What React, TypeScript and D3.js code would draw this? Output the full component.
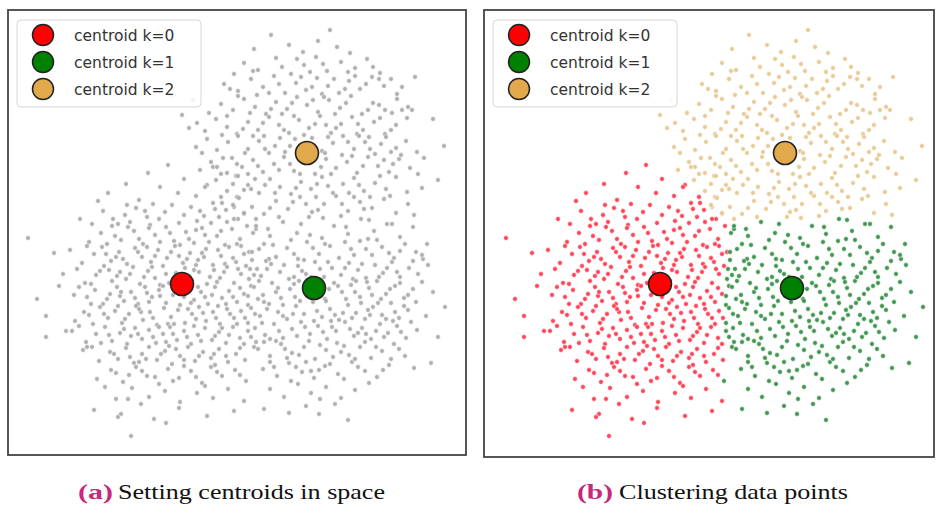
import React from 'react'
import * as d3 from 'd3'

// data units: x 0..458, y 0..445 (y up), same cloud in both panels
const centroidX = [174, 306, 299]
const centroidY = [171, 167, 302]
const centroidLabels = ['centroid k=0', 'centroid k=1', 'centroid k=2']
const centroidColors = ['#ff0000', '#008000', '#e2a84c']
const pointColors = ['#ff3046', '#2c8c3c', '#e6c689']
const captions = [['(a)', 'Setting centroids in space'], ['(b)', 'Clustering data points']]

const redBlob = [
140,282, 176,276, 205,288, 118,271, 228,279, 160,290,
100,262, 131,255, 152,268, 188,259, 214,252, 243,266, 119,250, 170,262, 199,270, 90,254, 229,258, 145,251,
72,236, 95,244, 110,231, 128,247, 139,238, 157,243, 171,232, 183,248, 196,239, 207,246, 219,233, 236,241, 248,236, 84,231, 117,240, 164,250, 189,234, 226,248, 142,230, 203,232,
81,213, 93,222, 104,229, 113,215, 126,224, 135,211, 147,220, 158,228, 166,214, 178,223, 186,212, 194,227, 209,219, 217,210, 224,226, 232,216, 245,222, 99,211, 141,227, 172,210, 201,213, 239,229, 120,228, 188,225,
74,192, 86,201, 94,208, 103,194, 111,203, 119,191, 127,207, 134,198, 143,193, 150,205, 159,197, 167,209, 175,192, 182,202, 190,195, 198,206, 205,190, 213,199, 221,208, 228,193, 236,201, 244,195, 251,206, 79,209, 108,198, 139,208, 171,199, 196,198, 217,191, 233,209,
69,186, 77,172, 88,180, 96,189, 104,174, 112,183, 118,176, 125,188, 132,171, 140,184, 147,177, 155,189, 161,172, 168,182, 177,187, 184,174, 191,183, 199,171, 206,185, 212,177, 219,188, 226,172, 233,181, 241,176, 249,186, 83,171, 101,185, 136,178, 152,170, 188,190, 209,173, 238,189,
29,156, 71,168, 79,158, 87,165, 95,151, 102,161, 109,168, 116,154, 123,163, 130,151, 137,168, 144,158, 151,165, 158,152, 165,160, 172,150, 180,167, 186,155, 193,163, 200,151, 207,168, 214,157, 221,164, 229,153, 236,161, 243,169, 250,156, 66,160, 83,151, 112,159, 139,162, 155,169, 176,158, 197,158, 218,151, 232,167,
38,139, 67,134, 76,143, 85,131, 92,148, 100,137, 107,144, 114,132, 121,141, 128,149, 135,135, 142,143, 149,130, 156,147, 163,138, 170,145, 177,132, 184,141, 191,148, 198,134, 205,143, 212,131, 219,146, 226,137, 233,144, 240,132, 247,141, 81,140, 110,149, 133,143, 160,131, 188,136, 210,149, 229,131,
78,113, 88,121, 97,128, 104,114, 112,122, 119,111, 127,127, 134,116, 141,125, 148,112, 155,121, 162,128, 169,115, 176,124, 183,111, 190,120, 197,127, 204,115, 211,123, 218,112, 225,128, 232,117, 240,124, 248,113, 71,129, 93,112, 123,119, 158,113, 186,129, 214,127,
75,105, 91,94, 102,103, 110,96, 118,107, 126,92, 134,101, 141,108, 149,95, 157,104, 164,91, 172,99, 180,108, 187,94, 195,103, 203,97, 211,106, 220,93, 228,101, 237,95, 246,108, 84,108, 131,93, 168,106, 207,90,
89,76, 103,85, 115,73, 128,88, 139,79, 151,71, 160,86, 171,77, 183,84, 194,72, 203,88, 214,79, 227,85, 238,74, 121,80, 176,89,
108,56, 124,67, 141,58, 157,64, 172,53, 189,62, 205,57, 220,66, 236,54, 133,51, 197,69,
113,41, 146,36, 171,47, 199,39, 226,44, 158,32,
20,217, 46,202, 51,169, 58,124, 64,124, 79,108, 97,68, 120,56, 123,19, 38,118, 110,38, 86,45, 55,181, 62,205,
]

// denser middle of the k=0 blob
const redCore = [
105,236, 122,233, 137,244, 151,236, 176,240, 192,244, 211,238, 230,236,
107,219, 131,216, 152,213, 162,222, 181,216, 197,220, 213,224, 229,211,
98,201, 115,196, 130,203, 147,199, 163,203, 179,196, 194,202, 210,205, 225,197, 241,203,
92,184, 109,179, 122,181, 144,188, 158,181, 173,178, 186,185, 202,178, 216,183, 230,186, 246,180,
99,156, 113,163, 127,157, 141,153, 152,159, 168,165, 183,152, 190,168, 204,160, 225,158, 240,150,
96,141, 117,136, 131,146, 145,137, 166,131, 180,146, 195,142, 208,137, 222,141, 237,137,
101,120, 116,126, 130,121, 145,118, 151,128, 165,121, 179,118, 193,114, 207,119, 221,120, 236,111,
106,101, 122,98, 138,96, 153,101, 161,109, 176,95, 191,99, 206,101, 218,99, 232,107,
108,82, 134,84, 147,78, 165,74, 188,78, 209,83, 232,80,
]

const greenBlob = [
248,226, 262,219, 275,233, 289,222, 301,238, 314,217, 326,229, 340,221, 353,236, 366,224, 379,231, 392,218, 405,228, 283,215, 333,239, 360,216,
244,203, 256,211, 268,198, 279,207, 290,196, 299,213, 311,201, 322,209, 331,197, 343,206, 352,214, 364,200, 374,208, 386,197, 397,211, 408,203, 415,196, 261,196, 305,207, 337,213, 369,215, 392,204,
242,186, 253,179, 263,191, 272,183, 281,176, 290,189, 298,181, 307,193, 316,178, 324,187, 333,180, 341,192, 350,185, 358,177, 367,190, 375,182, 384,193, 392,178, 401,187, 410,181, 420,190, 258,194, 286,178, 312,186, 345,176, 379,187, 405,194, 296,195,
246,168, 255,160, 264,172, 273,157, 282,166, 291,174, 299,159, 308,168, 317,156, 326,172, 334,163, 343,170, 352,158, 361,167, 369,174, 378,161, 387,169, 396,157, 405,166, 414,173, 268,163, 287,158, 321,166, 348,174, 373,156, 392,172, 240,159, 312,175, 338,156, 359,173,
243,147, 252,139, 261,151, 270,143, 279,136, 288,149, 296,141, 305,153, 314,138, 322,146, 331,135, 340,150, 348,142, 357,136, 365,148, 374,140, 383,152, 391,137, 400,145, 408,153, 418,139, 256,153, 285,141, 318,154, 353,152, 378,136, 396,149, 275,150, 335,142, 362,140,
247,127, 257,120, 266,131, 275,117, 284,126, 293,133, 302,121, 310,129, 319,116, 328,124, 337,133, 346,119, 354,127, 363,116, 372,131, 380,122, 389,129, 398,117, 409,125, 262,116, 297,128, 323,134, 350,122, 385,134, 243,118, 315,123, 368,124, 403,133,
250,106, 262,99, 273,111, 284,102, 296,108, 307,96, 318,105, 329,112, 341,100, 352,108, 363,97, 374,104, 386,111, 397,99, 268,114, 301,114, 325,98, 357,113, 383,96, 406,87, 279,97, 336,109,
255,86, 269,79, 281,92, 294,83, 306,77, 317,89, 330,81, 344,93, 357,84, 369,78, 381,90, 298,93, 262,93, 336,76, 423,92, 311,85,
262,66, 276,58, 290,71, 303,62, 318,68, 333,57, 347,65, 361,72, 283,74, 312,56,
256,46, 281,42, 311,41, 340,35, 298,49, 327,51,
425,163, 430,118, 414,200, 437,148, 419,211,
]

const greenCore = [
265,210, 286,201, 302,220, 317,211, 346,200, 358,206, 381,202,
259,186, 276,190, 294,184, 303,178, 320,193, 337,187, 354,191, 371,178, 389,183,
251,174, 270,167, 286,171, 304,163, 313,159, 330,169, 347,163, 364,160, 382,166, 400,160,
259,146, 275,139, 292,154, 309,144, 327,140, 344,137, 360,145, 370,152, 387,143,
254,132, 271,124, 289,119, 306,134, 324,128, 342,126, 358,121, 376,118, 393,123,
256,113, 277,106, 291,100, 312,110, 333,103, 347,96, 368,108, 391,106,
266,88, 288,88, 303,84, 322,91, 350,88, 375,85,
]

const tanBlob = [
263,420, 322,425, 295,403, 342,402, 281,410, 310,414, 246,406, 329,408,
236,392, 250,385, 268,397, 283,381, 296,390, 308,398, 319,384, 333,393, 347,387, 359,396, 372,382, 226,381, 302,383, 407,378,
216,371, 230,364, 243,376, 255,368, 266,379, 277,362, 288,372, 298,365, 309,377, 320,369, 331,362, 341,374, 352,366, 364,378, 376,369, 389,361, 261,362, 314,361, 347,379, 383,376,
201,342, 213,351, 225,345, 236,356, 247,348, 258,341, 268,353, 279,346, 289,358, 299,350, 310,343, 321,355, 332,347, 343,359, 354,341, 365,352, 377,345, 389,356, 400,348, 174,340, 230,359, 274,341, 316,358, 384,342,
181,327, 189,332, 197,324, 208,336, 219,328, 229,321, 240,333, 250,325, 261,338, 271,330, 281,322, 291,335, 301,327, 312,339, 323,322, 333,331, 344,338, 355,325, 366,333, 377,321, 388,330, 399,337, 404,345, 255,332, 286,339, 318,330, 349,321, 372,337,
188,308, 199,316, 209,305, 220,313, 230,319, 240,306, 251,314, 261,302, 272,317, 282,309, 292,301, 304,317, 314,304, 325,312, 335,319, 346,306, 357,313, 367,301, 378,318, 388,307, 398,314, 409,303, 194,302, 245,319, 277,303, 320,318, 351,319, 383,303, 416,297, 267,309,
192,285, 203,293, 213,281, 224,297, 234,288, 245,295, 255,283, 266,291, 276,298, 286,284, 297,292, 307,281, 318,296, 328,287, 339,293, 349,282, 360,298, 370,289, 381,283, 391,296, 402,287, 209,288, 240,281, 282,291, 313,288, 344,299, 376,295, 410,281,
197,268, 208,275, 219,264, 230,279, 240,270, 251,262, 262,276, 272,268, 283,261, 293,273, 303,266, 314,278, 325,262, 335,271, 346,277, 356,264, 367,272, 378,266, 388,278, 399,263, 414,267, 225,271, 257,270, 309,271, 341,262, 372,279,
205,252, 218,245, 231,257, 244,248, 256,241, 268,254, 280,246, 292,258, 304,243, 316,251, 328,259, 340,244, 352,253, 364,247, 376,256, 388,242, 400,251, 236,242, 298,251, 346,258,
226,236, 248,229, 271,238, 293,231, 315,237, 338,228, 361,235, 384,231, 406,240, 260,226,
436,309, 430,275, 425,336, 163,360, 185,355,
]

const tanCore = [
245,384, 274,388, 289,396, 315,391, 340,383, 365,388,
222,366, 249,360, 271,371, 293,378, 304,368, 326,376, 337,366, 358,371, 371,376, 394,368,
219,339, 242,342, 263,346, 284,352, 305,355, 327,341, 338,352, 360,345, 371,350, 394,345,
214,320, 235,326, 256,319, 276,325, 296,320, 307,331, 328,327, 350,331, 361,318, 383,325,
215,297, 237,302, 257,306, 287,316, 299,309, 317,302, 340,313, 362,306, 373,311, 393,300,
219,282, 229,291, 250,289, 271,285, 292,281, 302,294, 323,281, 334,300, 355,289, 385,291,
213,258, 236,265, 247,276, 267,262, 288,267, 308,258, 320,269, 351,270, 362,258, 382,259,
225,250, 262,247, 285,253, 310,245, 334,251, 356,246,
]

function toPoints(flat: number[]) {
  const out: [number, number][] = []
  for (let i = 0; i < flat.length; i += 2) out.push([flat[i], flat[i + 1]])
  return out
}

const cloud = [redBlob, redCore, greenBlob, greenCore, tanBlob, tanCore].flatMap(toPoints)

function nearest(p: [number, number]) {
  let best = 0, bd = Infinity
  centroidX.forEach((cx, k) => {
    const d = (p[0] - cx) ** 2 + (p[1] - centroidY[k]) ** 2
    if (d < bd) { bd = d; best = k }
  })
  return best
}

function Panel({ x0, frame, colored, legendX }: { x0: number, frame: number[], colored: boolean, legendX: number }) {
  const x = d3.scaleLinear().domain([0, 458]).range([x0, x0 + 458])
  const y = d3.scaleLinear().domain([0, 445]).range([455, 10])
  return (
    <g>
      <clipPath id={'clip' + x0}>
        <rect x={frame[0]} y={frame[1]} width={frame[2] - frame[0]} height={frame[3] - frame[1]} />
      </clipPath>
      <g clipPath={`url(#clip${x0})`}>
        {cloud.map((p, i) => (
          <circle key={i} cx={x(p[0])} cy={y(p[1])} r={2.4}
            fill={colored ? pointColors[nearest(p)] : '#a2a2a2'}
            stroke="#fff" strokeWidth={0.6} opacity={colored ? 0.9 : 0.85} />
        ))}
        {centroidX.map((cx, k) => (
          <circle key={'c' + k} cx={x(cx)} cy={y(centroidY[k])} r={11.5}
            fill={centroidColors[k]} stroke="#222" strokeWidth={1.6} />
        ))}
      </g>
      <rect x={frame[0]} y={frame[1]} width={frame[2] - frame[0]} height={frame[3] - frame[1]}
        fill="none" stroke="#444" strokeWidth={1.8} />
      <rect x={legendX} y={20} width={184} height={87} rx={4} fill="#fff" fillOpacity={0.85} stroke="#d6d6d6" />
      {centroidLabels.map((t, k) => (
        <g key={t}>
          <circle cx={legendX + 26} cy={35 + k * 27} r={10.5} fill={centroidColors[k]} stroke="#222" strokeWidth={1.5} />
          <text x={legendX + 57} y={35 + k * 27 + 5.5} fontFamily="DejaVu Sans" fontSize={15.5} fill="#333">{t}</text>
        </g>
      ))}
    </g>
  )
}

export default function App() {
  return (
    <svg width={936} height={506} style={{ display: 'block', position: 'absolute', left: 0, top: 0, background: '#fff' }}>
      <rect width={936} height={506} fill="#fff" />
      <Panel x0={8} frame={[8, 10, 466, 455]} colored={false} legendX={17} />
      <Panel x0={486} frame={[484, 10, 934, 457]} colored={true} legendX={493} />
      {captions.map((c, i) => (
        <g key={i}>
          <text x={i ? 577 : 78} y={499} fontFamily="Liberation Serif" fontWeight="bold" fontSize={21} fill="#c8287a"
            textLength={i ? 36 : 35} lengthAdjust="spacingAndGlyphs">{c[0]}</text>
          <text x={i ? 619 : 118} y={499} fontFamily="Liberation Serif" fontSize={21.5} fill="#111"
            textLength={i ? 229 : 267} lengthAdjust="spacingAndGlyphs">{c[1]}</text>
        </g>
      ))}
    </svg>
  )
}
